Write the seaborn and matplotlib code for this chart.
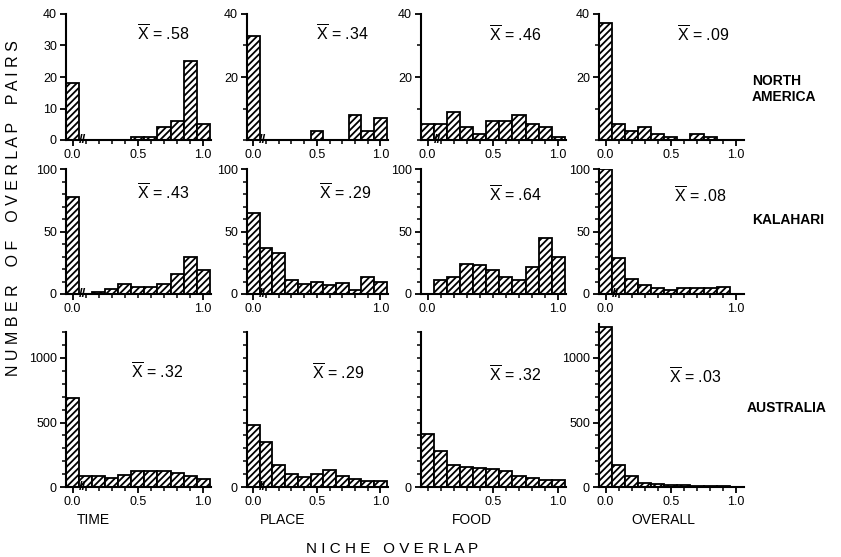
import numpy as np
import pandas as pd
import matplotlib
matplotlib.use("Agg")
import matplotlib.pyplot as plt
import seaborn as sns

# ---------------- data ----------------
overlap_bins = [0.0, 0.1, 0.2, 0.3, 0.4, 0.5, 0.6, 0.7, 0.8, 0.9, 1.0]
regions = ["NORTH\nAMERICA", "KALAHARI", "AUSTRALIA"]
dimensions = ["TIME", "PLACE", "FOOD", "OVERALL"]

na_time = [18, 0, 0, 0, 0, 1, 1, 4, 6, 25, 5]
na_place = [33, 0, 0, 0, 0, 3, 0, 0, 8, 3, 7]
na_food = [5, 5, 9, 4, 2, 6, 6, 8, 5, 4, 1]
na_overall = [37, 5, 3, 4, 2, 1, 0, 2, 1, 0, 0]

kal_time = [78, 0, 2, 4, 8, 6, 6, 8, 16, 30, 19]
kal_place = [65, 37, 33, 11, 8, 10, 7, 9, 3, 14, 10]
kal_food = [0, 11, 14, 24, 23, 19, 14, 11, 22, 45, 30]
kal_overall = [100, 29, 12, 7, 5, 3, 5, 5, 5, 6, 0]

aus_time = [690, 85, 85, 70, 95, 124, 124, 124, 111, 83, 60]
aus_place = [483, 349, 168, 98, 75, 103, 129, 85, 65, 47, 47]
aus_food = [410, 282, 174, 154, 146, 136, 123, 82, 69, 51, 51]
aus_overall = [1240, 174, 83, 34, 26, 18, 12, 10, 10, 6, 0]

mean_overlap = [[".58", ".34", ".46", ".09"],
                [".43", ".29", ".64", ".08"],
                [".32", ".29", ".32", ".03"]]

counts = [[na_time, na_place, na_food, na_overall],
          [kal_time, kal_place, kal_food, kal_overall],
          [aus_time, aus_place, aus_food, aus_overall]]

row_ymax = [40, 100, 1200]
row_minor_step = [10, 10, 100]
ytick_labels = [
    [[0, 10, 20, 30, 40], [20, 40], [20, 40], [20, 40]],
    [[0, 50, 100]] * 4,
    [[0, 500, 1000], [0], [0], [0, 500, 1000]],
]
xtick_labels = [
    [[0.0, 0.5, 1.0]] * 4,
    [[0.0, 1.0]] * 4,
    [[0.0, 0.5, 1.0], [0.0, 0.5, 1.0], [0.5, 1.0], [0.0, 0.5, 1.0]],
]
break_marks = {(0, 0), (0, 1), (0, 2), (1, 0), (1, 1), (1, 3), (2, 0), (2, 1)}

# ---------------- style ----------------
sns.set_style("ticks")
plt.rcParams["font.family"] = ["Liberation Sans", "DejaVu Sans"]
plt.rcParams["mathtext.fontset"] = "custom"
plt.rcParams["mathtext.rm"] = "Liberation Sans"
plt.rcParams["mathtext.it"] = "Liberation Sans:italic"
plt.rcParams["mathtext.bf"] = "Liberation Sans:bold"
plt.rcParams["hatch.color"] = "black"
plt.rcParams["hatch.linewidth"] = 1.3
for key in ("text.color", "axes.labelcolor", "xtick.color", "ytick.color",
            "axes.edgecolor"):
    plt.rcParams[key] = "black"

W, H = 841, 557
fig = plt.figure(figsize=(W / 100, H / 100), dpi=100)

col_left = [66, 247, 421, 599]
col_width = [145, 141, 145, 145]
col_center = [93, 283, 472, 663]
row_base = [140, 294, 487]
row_px_per_unit = [126 / 40, 125 / 100, 129 / 1000]
# position (figure pixels) of the mean-overlap annotation in each panel
mean_xy = [[(163, 34), (342, 34), (515, 35), (703, 35)],
           [(163, 193), (345, 193), (515, 195), (700, 196)],
           [(157, 372), (338, 373), (515, 375), (695, 377)]]

for r in range(3):
    for c in range(4):
        ymax = row_ymax[r]
        if r == 2 and c == 3:
            ymax = 1260
        height_px = ymax * row_px_per_unit[r]
        ax = fig.add_axes([col_left[c] / W, 1 - row_base[r] / H,
                           col_width[c] / W, height_px / H])
        df = pd.DataFrame({"overlap": overlap_bins, "pairs": counts[r][c]})
        sns.histplot(data=df, x="overlap", weights="pairs", bins=11,
                     binrange=(-0.05, 1.05), ax=ax, facecolor="white",
                     edgecolor="black", linewidth=1.3, hatch="/////", alpha=1)
        ax.set_xlim(-0.05, 1.06)
        ax.set_ylim(0, ymax)
        ax.set_xlabel("")
        ax.set_ylabel("")
        sns.despine(ax=ax)
        for sp in ("left", "bottom"):
            ax.spines[sp].set_linewidth(1.5)

        ax.set_yticks(ytick_labels[r][c])
        ax.set_yticks(np.arange(0, ymax + 1, row_minor_step[r]), minor=True)
        ax.set_yticklabels([str(v) for v in ytick_labels[r][c]])
        ax.set_xticks(xtick_labels[r][c])
        ax.set_xticklabels([f"{v:.1f}" for v in xtick_labels[r][c]])
        ax.set_xticks(overlap_bins, minor=True)
        ax.tick_params(axis="both", which="major", length=4.5, width=1.3,
                       labelsize=9, pad=2)
        ax.tick_params(axis="both", which="minor", length=3, width=1.1)
        ax.set_facecolor("none")

        mx, my = mean_xy[r][c]
        fig.text(mx / W, 1 - my / H,
                 r"$\overline{\mathrm{X}}$ = " + mean_overlap[r][c],
                 ha="center", va="center", fontsize=11.5)
        if (r, c) in break_marks:
            ax.text(0.075, 0, "//", ha="center", va="center", fontsize=9.5,
                    fontweight="bold", clip_on=False)

for c in range(4):
    fig.text(col_center[c] / W, 1 - 520 / H, dimensions[c], ha="center",
             va="center", fontsize=10)

fig.text(752 / W, 1 - 89 / H, regions[0], ha="left", va="center",
         fontsize=10, fontweight="bold", linespacing=1.1)
fig.text(752 / W, 1 - 220 / H, regions[1], ha="left", va="center",
         fontsize=10, fontweight="bold")
fig.text(747 / W, 1 - 408 / H, regions[2], ha="left", va="center",
         fontsize=10, fontweight="bold")

fig.text(392 / W, 1 - 549 / H, "N I C H E   O V E R L A P", ha="center",
         va="center", fontsize=11)
fig.text(14 / W, 1 - 208 / H,
         "N U M B E R    O F    O V E R L A P    P A I R S",
         ha="center", va="center", rotation=90, fontsize=11.5)

fig.savefig("out.png", dpi=100)
